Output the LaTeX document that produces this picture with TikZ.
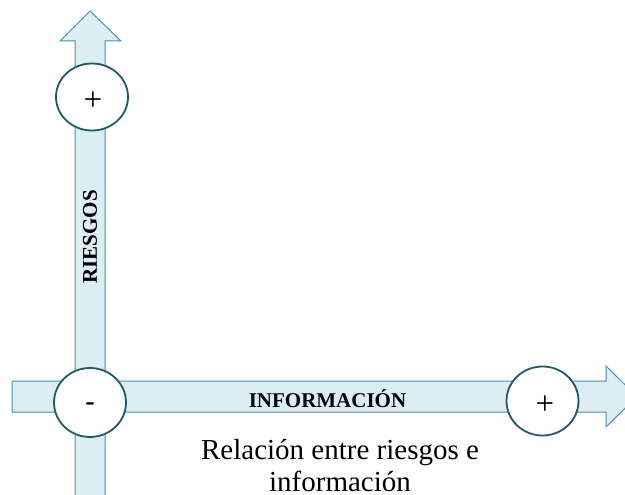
\documentclass[tikz,border=0pt]{standalone}
\usepackage{fontspec}
\setmainfont{Liberation Serif}
\usetikzlibrary{shapes.geometric}
\definecolor{arrowfill}{HTML}{DAEEF3}
\definecolor{arrowline}{HTML}{4A90A8}
\definecolor{circline}{HTML}{215968}
\tikzset{
  axisarrow/.style={fill=arrowfill, draw=arrowline, line width=1pt, line join=miter},
  signcircle/.style={ellipse, draw=circline, fill=white, line width=1.8pt, inner sep=0pt, minimum width=72pt, minimum height=67pt},
  signtext/.style={inner sep=0pt, font=\fontsize{33}{33}\selectfont},
  axislabel/.style={inner sep=0pt, font=\bfseries\fontsize{21}{21}\selectfont},
}
\begin{document}
\begin{tikzpicture}[x=1pt,y=-1pt]
\useasboundingbox (0,0) rectangle (625,495);
\clip (0,0) rectangle (625,495);
% horizontal arrow
\draw[axisarrow] (12,381) -- (606,381) -- (606,366) -- (637,396.5) -- (606,427) -- (606,412) -- (12,412) -- cycle;
% vertical arrow
\draw[axisarrow] (75,505) -- (75,41) -- (60,41) -- (90,11) -- (121,41) -- (105,41) -- (105,505) -- cycle;
% circles
\node[signcircle] (top) at (92,97) {};
\node[signcircle, minimum height=69pt] (origin) at (90,402.5) {};
\node[signcircle, minimum height=69pt] (right) at (542.5,401) {};
% signs
\node[signtext] (topsign) at (93,101) {+};
\node[signtext, font=\bfseries\fontsize{28}{28}\selectfont] (originsign) at (90,407) {-};
\node[signtext] (rightsign) at (545,405) {+};
% labels
\node[axislabel] (info) at (327.5,398.5) {INFORMACIÓN};
\node[axislabel, rotate=90] (riesgos) at (90,237) {RIESGOS};
\node[align=center, inner sep=0pt, text depth=0pt, font=\fontsize{29}{32}\selectfont, anchor=base] (caption) at (340,491) {Relación entre riesgos e\\información};
\end{tikzpicture}
\end{document}
